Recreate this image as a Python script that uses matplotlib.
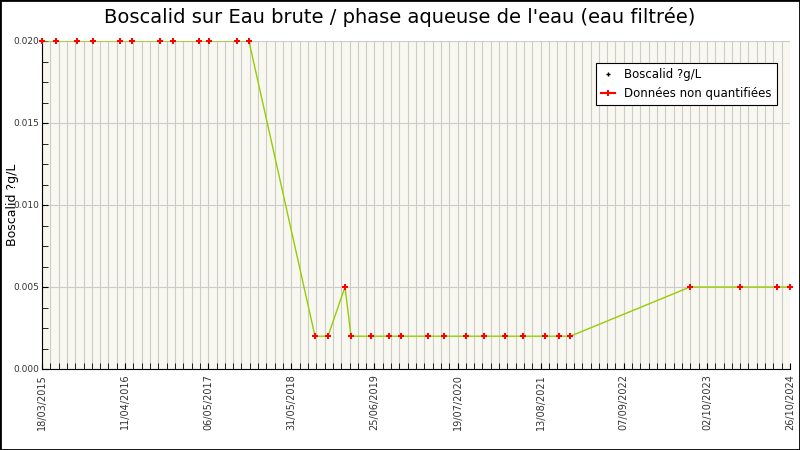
import matplotlib
matplotlib.use("Agg")
import matplotlib.pyplot as plt
import numpy as np
from matplotlib.lines import Line2D
from matplotlib.patches import Rectangle

dates = ["2015-03-18","2015-05-23","2015-08-29","2015-11-12","2016-03-18","2016-05-13",
         "2016-09-21","2016-11-22","2017-03-24","2017-05-10","2017-09-18","2017-11-13",
         "2018-09-19","2018-11-19","2019-02-07","2019-03-07","2019-06-09","2019-09-01",
         "2019-10-28","2020-03-02","2020-05-17","2020-08-29","2020-11-21","2021-02-28",
         "2021-05-23","2021-09-03","2021-11-08","2021-12-30","2023-07-15","2024-03-06",
         "2024-08-27","2024-10-26"]
values = [0.02]*12 + [0.002, 0.002, 0.005] + [0.002]*13 + [0.005]*4
tick_labels = ["18/03/2015","11/04/2016","06/05/2017","31/05/2018","25/06/2019",
               "19/07/2020","13/08/2021","07/09/2022","02/10/2023","26/10/2024"]

x = np.array(dates, dtype="datetime64[D]")
ticks = np.array([f"{t[6:]}-{t[3:5]}-{t[:2]}" for t in tick_labels], dtype="datetime64[D]")

fig = plt.figure(figsize=(8, 4.5), dpi=100)
fig.patches.append(Rectangle((0, 0), 1, 1, transform=fig.transFigure, fill=False,
                             edgecolor="black", lw=2))
ax = fig.add_axes([42/800, 1-369/450, 748/800, 328/450])
ax.set_facecolor("#f8f8f0")
ax.plot(x, values, color="#99cc00", lw=1, zorder=3)
ax.plot(x, values, ls="none", marker="P", color="red", ms=5, mew=0, zorder=4, clip_on=False)

ax.set_xlim(ticks[0], ticks[-1])
ax.set_ylim(0, 0.02)
ax.set_xticks(ticks)
ax.set_xticklabels(tick_labels, rotation=90, fontsize=7)
minor = np.arange(ticks[0], ticks[-1] + 1, 39)
ax.set_xticks(minor, minor=True)
ax.set_yticks([0, 0.005, 0.01, 0.015, 0.02])
ax.set_yticklabels(["0.000", "0.005", "0.010", "0.015", "0.020"], fontsize=6.5)
ax.set_yticks(np.arange(0, 0.0201, 0.00125), minor=True)
ax.grid(True, which="minor", axis="x", color="#cccccc", lw=0.8)
ax.grid(True, which="major", axis="x", color="#cccccc", lw=0.8)
ax.grid(True, which="major", axis="y", color="#cccccc", lw=0.8)
ax.tick_params(axis="x", which="both", direction="in", length=4, labelcolor="#333333")
ax.tick_params(axis="y", which="both", direction="in", length=4, pad=2, labelcolor="#333333")
for s in ["top", "right"]:
    ax.spines[s].set_visible(False)
fig.text(13/800, 1-205/450, "Boscalid ?g/L", rotation=90, fontsize=9, ha="center", va="center")
fig.suptitle("Boscalid sur Eau brute / phase aqueuse de l'eau (eau filtrée)", fontsize=14, y=0.985)

handles = [Line2D([], [], ls="none", marker="+", color="black", ms=3),
           Line2D([], [], ls="-", marker="P", color="red", mfc="red", mew=0, ms=5)]
leg = ax.legend(handles, ["Boscalid ?g/L", "Données non quantifiées"], loc="upper right",
                bbox_to_anchor=(0.99, 0.95), fontsize=8.5, fancybox=False, framealpha=1,
                edgecolor="black", handlelength=1.2)
leg.get_frame().set_linewidth(0.8)
fig.savefig("out.png", dpi=100)
